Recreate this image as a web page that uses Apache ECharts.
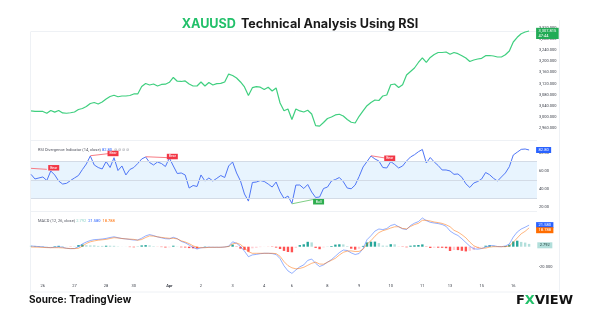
<!DOCTYPE html>
<html><head><meta charset="utf-8">
<script src="https://cdn.jsdelivr.net/npm/echarts/dist/echarts.min.js"></script>
<style>html,body{margin:0;padding:0;background:#fff}#c{width:600px;height:315px}</style>
</head><body><div id="c"></div>
<script>
// ---- data ----
const dayLabels = ['26','27','28','30','Apr','2','3','4','6','8','9','10','11','13','15','16'];
const dayIdx    = [3, 11, 19, 26, 35, 43, 51, 59, 66, 75, 83, 91, 99, 106, 114, 122];
const barCount = 129;

const price = [3022.3,3020.5,3020.5,3020.5,3014.1,3024.0,3018.0,3024.0,3015.1,3014.1,
 3015.8,3018.7,3027.6,3031.2,3038.3,3049.0,3052.6,3047.3,3054.4,3065.1,
 3074.0,3078.3,3073.0,3075.8,3075.8,3077.6,3083.0,3083.0,3109.7,3120.4,
 3115.1,3118.7,3111.5,3116.9,3117.9,3124.7,3141.9,3128.6,3127.6,3129.4,
 3118.7,3111.5,3111.5,3125.8,3111.5,3124.0,3115.1,3119.7,3120.8,3125.8,
 3154.0,3149.0,3140.1,3125.8,3107.9,3077.6,3105.4,3109.0,3107.2,3099.0,
 3106.9,3093.7,3104.4,3050.8,3023.3,3029.4,2992.0,3029.4,3022.3,3018.7,
 3024.8,3011.6,2970.0,2968.0,2981.2,2995.5,3000.8,3008.0,3010.5,3004.4,
 2991.9,2981.9,2979.4,3003.3,3022.3,3041.2,3052.6,3061.5,3059.7,3075.8,
 3079.4,3115.8,3118.7,3106.2,3116.2,3150.8,3163.3,3175.8,3195.4,3212.2,
 3195.4,3213.3,3224.0,3231.1,3231.1,3232.9,3224.7,3231.1,3226.8,3219.7,
 3211.5,3199.0,3204.3,3207.9,3210.4,3219.7,3220.4,3218.6,3215.0,3215.0,
 3222.9,3236.5,3268.6,3285.4,3298.2,3304.3,3307.815];

const rsi = [56.0,50.9,52.0,53.1,49.2,59.7,55.3,48.6,45.3,46.1,
 49.2,52.0,54.7,61.3,67.4,76.2,66.3,63.5,61.9,70.1,
 63.5,74.3,60.2,65.2,55.3,61.3,63.5,67.9,72.9,75.1,
 69.0,66.3,69.6,67.9,64.6,74.0,65.2,56.9,57.5,55.3,
 40.9,43.7,42.6,55.3,48.6,52.0,48.6,51.6,54.7,52.5,
 65.2,69.6,57.5,48.6,34.3,26.5,47.0,47.5,49.2,48.1,
 45.3,42.0,47.5,36.9,29.4,32.1,23.9,44.2,44.2,40.4,
 44.8,36.5,30.5,31.0,40.4,42.0,48.6,50.3,52.5,47.9,
 40.9,40.1,44.2,53.6,64.1,70.1,76.2,72.9,70.7,63.5,
 63.0,70.1,66.8,63.0,65.2,70.7,75.1,77.6,80.9,83.4,
 68.5,74.5,69.6,65.7,60.8,60.8,59.7,56.0,56.4,52.7,
 45.6,41.5,46.4,48.1,50.9,58.0,55.6,51.6,48.6,53.1,
 57.5,64.4,77.3,80.4,83.5,83.9,82.80];

const macd = [0.7,0.4,0.1,-0.2,-0.7,-0.9,-0.5,-0.1,-0.6,-1.6,
 -2.0,-1.8,0.0,2.8,4.7,6.2,7.1,7.3,7.7,8.3,
 9.2,9.9,9.0,8.2,7.8,7.2,6.7,6.7,8.5,10.8,
 12.1,11.1,9.8,8.9,8.0,7.8,9.4,8.0,5.3,3.9,
 1.7,-0.7,-2.3,-1.1,-0.7,-0.5,-0.6,-0.6,-0.6,-0.3,
 0.5,4.9,3.4,0.2,-4.5,-10.0,-8.2,-7.7,-7.0,-6.6,
 -6.6,-6.9,-7.8,-11.9,-19.1,-24.2,-26.7,-23.3,-20.1,-18.2,
 -13.7,-12.3,-16.6,-19.8,-18.2,-15.5,-12.9,-9.5,-5.9,-3.3,
 -3.8,-6.2,-7.8,-6.8,-1.8,7.0,11.0,15.6,17.7,17.1,
 18.2,21.2,22.3,19.9,17.9,17.2,21.2,23.5,25.1,28.7,
 26.1,24.4,23.7,23.1,22.2,20.4,15.7,13.1,11.2,7.9,
 4.2,0.5,-2.1,-2.5,-1.8,-0.4,1.0,1.0,0.2,0.0,
 0.7,2.7,9.7,14.7,17.7,19.5,21.580];

const signal = [-0.3,-0.4,-0.5,-0.7,-0.9,-1.0,-1.0,-1.0,-1.2,-1.6,
 -1.8,-1.9,-1.6,0.6,3.2,4.9,5.8,6.5,6.9,7.3,
 8.2,9.0,8.7,8.2,7.8,7.6,7.3,6.5,7.2,9.2,
 10.8,10.6,9.9,9.3,8.8,8.4,8.4,7.8,5.9,4.7,
 3.1,0.9,-0.6,-1.0,-1.0,-0.7,-0.6,-0.6,-0.6,-0.3,
 0.2,2.8,3.7,2.2,-1.3,-5.0,-6.6,-6.6,-6.6,-6.6,
 -6.6,-6.6,-6.9,-9.6,-14.9,-18.9,-21.1,-22.1,-21.7,-20.6,
 -18.6,-16.6,-15.4,-17.3,-17.5,-15.5,-13.6,-11.6,-8.3,-5.6,
 -4.4,-4.2,-4.8,-4.7,-2.6,2.7,6.0,10.5,14.1,16.0,
 17.2,18.7,19.9,20.0,18.2,17.8,20.2,22.1,23.4,26.4,
 26.4,25.7,24.7,24.1,23.3,21.9,20.0,16.4,14.6,12.0,
 8.9,4.6,1.0,-0.8,-1.6,-1.4,-0.4,0.0,0.0,0.0,
 0.0,0.7,4.5,8.7,12.9,15.4,18.788];

const hist = [1.0,0.8,0.6,0.5,0.2,0.1,0.5,0.9,0.6,0.1,
 -0.2,0.1,1.6,2.2,1.5,1.3,1.3,0.8,0.8,1.0,
 1.0,0.9,0.3,0.1,0.1,-0.4,-0.6,0.2,1.3,1.6,
 1.3,0.5,-0.1,-0.4,-0.8,-0.6,1.0,0.2,-0.6,-0.8,
 -1.4,-1.6,-1.7,-0.1,0.3,0.2,0.1,0.1,0.1,0.1,
 0.3,2.1,-0.3,-2.0,-3.2,-5.0,-1.6,-1.1,-0.4,-0.1,
 -0.1,-0.3,-0.9,-2.3,-4.2,-5.3,-5.6,-1.2,1.6,2.4,
 4.9,4.3,-1.2,-2.5,-0.7,0.1,0.7,2.1,2.4,2.3,
 0.6,-2.0,-3.0,-2.1,0.8,4.3,5.0,5.1,3.6,1.1,
 1.0,2.5,2.4,-0.1,-0.3,-0.6,1.0,1.4,1.7,2.3,
 -0.3,-1.3,-1.0,-1.0,-1.1,-1.5,-4.3,-3.3,-3.4,-4.1,
 -4.7,-4.1,-3.1,-1.7,-0.2,1.0,1.4,1.0,0.2,0.1,
 0.7,2.0,5.2,6.0,4.8,4.1,2.792];

// divergence segments: [fromIndex, fromRsi, toIndex, toRsi]
const bearLines = [[0,62.6,4,61.5],[15,76.5,20,79.0],[29,75.4,35,74.3],[86,76.5,90,73.7]];
const bullLines = [[66,23.5,72,28.8]];
const bearTags  = [[6,63.2],[21,79.0],[36,75.6],[91,73.7]];
const bullTags  = [[73,25.8]];
const countdown = '47:44';

// ---- build ----
const cats = [];
for (let i = 0; i < barCount; i++) { const k = dayIdx.indexOf(i); cats.push(k >= 0 ? dayLabels[k] : ''); }
const fmt = (v, d) => Number(v).toLocaleString('en-US', {minimumFractionDigits: d, maximumFractionDigits: d});
const last = a => a[a.length - 1];

const priceData = price.map((v, i) => i === price.length - 1 ? {value: v, symbol: 'circle', symbolSize: 3.5} : v);
const histData = hist.map((v, i) => {
  const p = i > 0 ? hist[i - 1] : v;
  const c = v >= 0 ? (v > p ? '#26a69a' : '#b2dfdb') : (v > p ? '#ffcdd2' : '#ff5252');
  const item = {value: v, itemStyle: {color: c}};
  if (i === hist.length - 1) item.label = {show: true, position: 'right', distance: 7, formatter: fmt(v, 3),
    backgroundColor: c, color: '#1b3a36', fontSize: 4, padding: [1, 2.5], fontFamily: 'Roboto'};
  return item;
});

const GL = 31, GR = 63;
const axisTxt = {fontSize: 4, color: '#3a3e48', fontFamily: 'Roboto'};
const tag = (bg, extra) => Object.assign({show: true, backgroundColor: bg, color: '#fff', fontSize: 4,
  fontFamily: 'Roboto', padding: [1, 2.5], distance: 6}, extra || {});

const chart = echarts.init(document.getElementById('c'));
chart.setOption({
  animation: false,
  backgroundColor: '#fff',
  title: [
    {text: '{g|XAUUSD} {d|Technical Analysis Using RSI}', left: 'center', top: 10,
      textStyle: {rich: {g: {color: '#22c06a', fontWeight: 'bold', fontSize: 12.6, fontFamily: 'Inter'},
                        d: {color: '#1a1a1a', fontSize: 12.6, fontFamily: 'Inter'}}}},
    {text: 'RSI Divergence Indicator (14, close) {v|' + fmt(last(rsi), 2) + '}  {i|⊘ ⊘ ⊘ ⊘}', left: 33, top: 143,
      textStyle: {fontSize: 4, color: '#50535e', fontWeight: 'normal', fontFamily: 'Roboto',
        rich: {v: {fontSize: 4, color: '#2962ff', fontFamily: 'Roboto'}, i: {fontSize: 4, color: '#9598a1'}}}},
    {text: 'MACD (12, 26, close) {t|' + fmt(last(hist), 3) + '}  {b|' + fmt(last(macd), 3) + '}  {o|' + fmt(last(signal), 3) + '}',
      left: 33, top: 214,
      textStyle: {fontSize: 4, color: '#50535e', fontWeight: 'normal', fontFamily: 'Roboto',
        rich: {t: {fontSize: 4, color: '#8fd3c8'}, b: {fontSize: 4, color: '#2962ff'}, o: {fontSize: 4, color: '#ff6d00'}}}},
    {text: 'Source: TradingView', left: 24, top: 290,
      textStyle: {fontSize: 10, fontWeight: 'bold', color: '#111', fontFamily: 'Inter'}},
    {text: '{f|F}{x|X}{f|VIEW}', right: 22, top: 289,
      textStyle: {rich: {f: {fontSize: 13, fontWeight: 900, color: '#111', fontFamily: 'DejaVu Sans'},
                        x: {fontSize: 13, fontWeight: 900, color: '#22c06a', fontFamily: 'DejaVu Sans'}}}}
  ],
  graphic: [
    {type: 'line', shape: {x1: 31, y1: 31.5, x2: 560, y2: 31.5}, style: {stroke: '#eef1f5', lineWidth: 1}},
    {type: 'line', shape: {x1: 31, y1: 140.5, x2: 537, y2: 140.5}, style: {stroke: '#eef1f5', lineWidth: 1}},
    {type: 'line', shape: {x1: 31, y1: 211.5, x2: 537, y2: 211.5}, style: {stroke: '#eef1f5', lineWidth: 1}},
    {type: 'line', shape: {x1: 30.5, y1: 31.5, x2: 30.5, y2: 292}, style: {stroke: '#eef1f5', lineWidth: 1}},
    {type: 'line', shape: {x1: 559.5, y1: 20, x2: 559.5, y2: 292}, style: {stroke: '#eef1f5', lineWidth: 1}},
    {type: 'line', shape: {x1: 31, y1: 292, x2: 560, y2: 292}, style: {stroke: '#eef1f5', lineWidth: 1}}
  ],
  grid: [
    {left: GL, right: GR, top: 27.6, height: 112},
    {left: GL, right: GR, top: 134.4, height: 90.75},
    {left: GL, right: GR, top: 206.7, height: 80}
  ],
  xAxis: [0, 1, 2].map(g => ({
    type: 'category', gridIndex: g, data: cats, boundaryGap: false,
    axisLine: {show: false}, axisTick: {show: false}, splitLine: {show: false},
    offset: g === 2 ? -3 : 0,
    axisLabel: Object.assign({show: g === 2, interval: 0, margin: 0,
      formatter: v => v === 'Apr' ? '{b|Apr}' : v,
      rich: {b: {fontSize: 4, fontWeight: 'bold', color: '#3a3e48', fontFamily: 'Roboto'}}}, axisTxt)
  })),
  yAxis: [
    {type: 'value', gridIndex: 0, position: 'right', min: 2920, max: 3320, interval: 40,
      axisLine: {show: false}, axisTick: {show: false}, splitLine: {show: false},
      axisLabel: Object.assign({margin: 2, showMinLabel: false, formatter: v => fmt(v, 3)}, axisTxt)},
    {type: 'value', gridIndex: 1, position: 'right', min: 0, max: 100, interval: 20,
      axisLine: {show: false}, axisTick: {show: false}, splitLine: {show: false},
      axisLabel: Object.assign({margin: 2, showMinLabel: false, showMaxLabel: false, formatter: v => fmt(v, 2)}, axisTxt)},
    {type: 'value', gridIndex: 2, position: 'right', min: -40, max: 40, interval: 20,
      axisLine: {show: false}, axisTick: {show: false}, splitLine: {show: false},
      axisLabel: Object.assign({margin: 2, showMinLabel: false, showMaxLabel: false, formatter: v => fmt(v, 3)}, axisTxt)}
  ],
  series: [
    {type: 'line', name: 'price', xAxisIndex: 0, yAxisIndex: 0, data: priceData, symbol: 'none', showSymbol: true,
      itemStyle: {color: '#3fcf7f'}, lineStyle: {color: '#3fcf7f', width: 1.2},
      endLabel: tag('#22ab56', {distance: 7, offset: [0, 2.4], lineHeight: 4.6,
        formatter: p => fmt(p.value, 3) + '\n' + countdown})},
    {type: 'line', name: 'rsi', xAxisIndex: 1, yAxisIndex: 1, data: rsi, symbol: 'none',
      lineStyle: {color: '#4f76f6', width: 1},
      endLabel: tag('#2962ff', {distance: 7, formatter: p => fmt(p.value, 2)}),
      markArea: {silent: true, itemStyle: {color: 'rgba(33,150,243,0.10)'}, data: [[{yAxis: 30}, {yAxis: 70}]]},
      markLine: {silent: true, symbol: ['none', 'none'], label: {show: false},
        data: [
          {yAxis: 70, lineStyle: {color: '#d3dbe6', width: 1, type: 'solid'}},
          {yAxis: 50, lineStyle: {color: '#d3dbe6', width: 1, type: 'solid'}},
          {yAxis: 30, lineStyle: {color: '#d3dbe6', width: 1, type: 'solid'}}
        ].concat(bearLines.map(s => [{coord: [s[0], s[1]], lineStyle: {color: '#f77c85', width: 1, type: 'solid'}}, {coord: [s[2], s[3]]}]))
         .concat(bullLines.map(s => [{coord: [s[0], s[1]], lineStyle: {color: '#7fcf86', width: 1, type: 'solid'}}, {coord: [s[2], s[3]]}]))},
      markPoint: {silent: true, symbol: 'rect', symbolSize: [11, 5.5],
        label: {show: true, color: '#fff', fontSize: 3.5, fontFamily: 'Roboto', formatter: p => p.name},
        data: bearTags.map(t => ({name: 'Bear', coord: t, symbolOffset: [-1, 0], itemStyle: {color: '#f23645'}}))
          .concat(bullTags.map(t => ({name: 'Bull', coord: t, symbolOffset: [-1, 0], itemStyle: {color: '#2fae4f'}})))}},
    {type: 'bar', name: 'hist', xAxisIndex: 2, yAxisIndex: 2, data: histData, barWidth: 2.4},
    {type: 'line', name: 'macd', xAxisIndex: 2, yAxisIndex: 2, data: macd, symbol: 'none',
      lineStyle: {color: 'rgba(41,98,255,0.5)', width: 1},
      endLabel: tag('#2962ff', {distance: 7, formatter: p => fmt(p.value, 3)})},
    {type: 'line', name: 'signal', xAxisIndex: 2, yAxisIndex: 2, data: signal, symbol: 'none',
      lineStyle: {color: 'rgba(255,109,0,0.5)', width: 1},
      endLabel: tag('#ff6d00', {distance: 7, offset: [0, 2.3], formatter: p => fmt(p.value, 3)})}
  ]
});
</script></body></html>
